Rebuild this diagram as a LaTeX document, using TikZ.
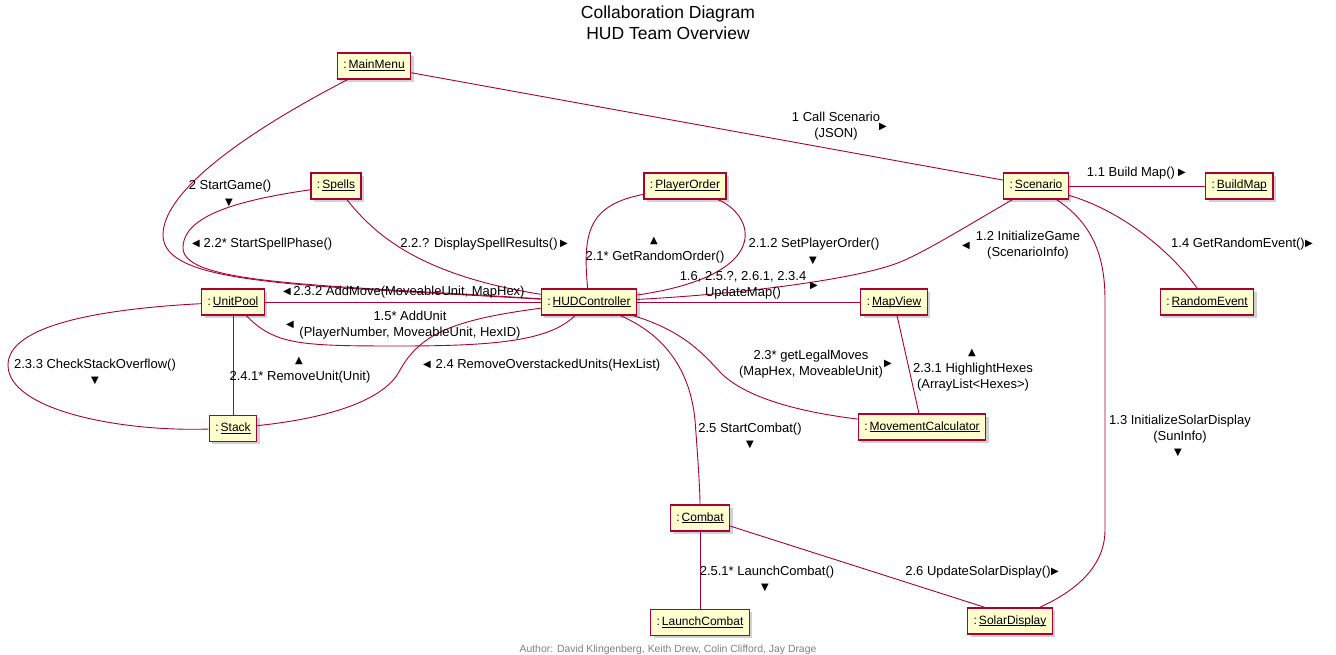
\documentclass[tikz,border=0pt]{standalone}
\usepackage{fontspec}
\setmainfont{Liberation Sans}
\newfontfamily\symfont{DejaVu Sans}
\usetikzlibrary{positioning}
\usetikzlibrary{shadows}
\definecolor{umlred}{HTML}{A80036}
\definecolor{umlfill}{HTML}{FEFECE}
\tikzset{obj/.style={draw=umlred, fill=umlfill, line width=1.2pt, minimum height=26pt, inner xsep=6pt, inner ysep=0pt, text height=9pt, text depth=3pt, font=\fontsize{12}{14}\selectfont, drop shadow={shadow xshift=3pt, shadow yshift=-3pt, opacity=0.18, fill=black}}}
\tikzset{lnk/.style={draw=umlred, line width=0.9pt}}
\tikzset{msg/.style={align=center, inner sep=0pt, font=\fontsize{13}{16}\selectfont}}
\tikzset{tri/.style={inner sep=0pt, font=\symfont\fontsize{10}{10}\selectfont}}
\newcommand{\inst}[1]{:\,\begingroup\setbox0=\hbox{#1}\rlap{\rule[-2.2pt]{\wd0}{0.9pt}}\box0\endgroup}

\begin{document}
\begin{tikzpicture}[x=1pt, y=-1pt]
    \fill[white] (0,0) rectangle (1336,655);
    \useasboundingbox (0,0) rectangle (1336,655);

    \node (title1) [anchor=base, font=\fontsize{17.5}{21}\selectfont] at (668,19) {Collaboration Diagram};
    \node (title2) [anchor=base, font=\fontsize{17.5}{21}\selectfont] at (668,40) {HUD Team Overview};

    \node[obj] (mm) at (374,66) {\inst{MainMenu}};
    \node[obj] (sp) at (336,186) {\inst{Spells}};
    \node[obj] (po) at (685,186) {\inst{PlayerOrder}};
    \node[obj] (scn) at (1036,186) {\inst{Scenario}};
    \node[obj, right=136pt of scn] (bm) {\inst{BuildMap}};
    \node[obj] (up) at (233,302) {\inst{UnitPool}};
    \node[obj] (hud) at (589,302) {\inst{HUDController}};
    \node[obj] (mv) at (894,302) {\inst{MapView}};
    \node[obj] (re) at (1207,302) {\inst{RandomEvent}};
    \node[obj, below=99pt of up] (stk) {\inst{Stack}};
    \node[obj] (mc) at (922,427) {\inst{MovementCalculator}};
    \node[obj] (cbt) at (700,518) {\inst{Combat}};
    \node[obj, below=77pt of cbt] (lc) {\inst{LaunchCombat}};
    \node[obj] (sd) at (1010,621) {\inst{SolarDisplay}};

    \draw[lnk] (mm) -- (scn);
    \draw[lnk] (mm) .. controls (250,130) and (163,190) .. (163,235)
        .. controls (163,285) and (300,285) .. (hud);
    \draw[lnk] (sp) .. controls (240,200) and (183,215) .. (183,248)
        .. controls (183,285) and (330,285) .. (hud);
    \draw[lnk] (sp) .. controls (375,235) and (420,275) .. (hud);
    \draw[lnk] (up) -- (hud);
    \draw[lnk] (up) .. controls (275,345) and (300,346) .. (400,346)
        .. controls (500,346) and (550,340) .. (hud);
    \draw[lnk] (up) .. controls (80,310) and (8,330) .. (8,365)
        .. controls (8,410) and (120,432) .. (stk);
    \draw[lnk] (up) -- (stk);
    \draw[lnk] (hud) .. controls (450,320) and (420,335) .. (400,370)
        .. controls (385,400) and (330,418) .. (stk);
    \draw[lnk] (po) .. controls (590,205) and (582,230) .. (hud);
    \draw[lnk] (po) .. controls (755,215) and (775,275) .. (hud);
    \draw[lnk] (scn) .. controls (960,230) and (920,255) .. (895,264)
        .. controls (850,280) and (740,294) .. (hud);
    \draw[lnk] (hud) -- (mv);
    \draw[lnk] (hud) .. controls (680,330) and (700,350) .. (720,372)
        .. controls (745,398) and (800,412) .. (mc);
    \draw[lnk] (mv) -- (mc);
    \draw[lnk] (hud) .. controls (665,335) and (690,370) .. (695,420)
        .. controls (698,460) and (700,490) .. (cbt);
    \draw[lnk] (cbt) -- (lc);
    \draw[lnk] (cbt.-15) -- ([xshift=18pt]sd.north west);
    \draw[lnk] (scn) .. controls (1095,225) and (1105,260) .. (1105,300)
        -- (1105,530) .. controls (1105,575) and (1060,598) .. (sd);
    \draw[lnk] (scn) -- (bm);
    \draw[lnk] (scn) .. controls (1120,210) and (1170,250) .. (re);

    \node[msg] (m1) at (836,126) {1 Call Scenario\\(JSON)};
    \node[tri] (t1) at (883,127) {▶};
    \node[msg] (m2) at (230,186) {2 StartGame()};
    \node[tri] (t2) at (229,203) {▼};
    \node[msg] (m3) at (268,244) {2.2* StartSpellPhase()};
    \node[tri] (t3) at (196,244) {◀};
    \node[msg] (m4) at (479,244) {2.2.? DisplaySpellResults()};
    \node[tri] (t4) at (564,244) {▶};
    \node[msg] (m5) at (409,292) {2.3.2 AddMove(MoveableUnit, MapHex)};
    \node[tri] (t5) at (287,292) {◀};
    \node[msg] (m6) at (410,325) {1.5* AddUnit\\(PlayerNumber, MoveableUnit, HexID)};
    \node[tri] (t6) at (290,325) {◀};
    \node[msg] (m7) at (95,365) {2.3.3 CheckStackOverflow()};
    \node[tri] (t7) at (95,381) {▼};
    \node[msg] (m8) at (300,377) {2.4.1* RemoveUnit(Unit)};
    \node[tri] (t8) at (299,361) {▲};
    \node[msg] (m9) at (548,365) {2.4 RemoveOverstackedUnits(HexList)};
    \node[tri] (t9) at (427,365) {◀};
    \node[msg] (m10) at (655,257) {2.1* GetRandomOrder()};
    \node[tri] (t10) at (654,241) {▲};
    \node[msg] (m11) at (814,244) {2.1.2 SetPlayerOrder()};
    \node[tri] (t11) at (813,261) {▼};
    \node[msg] (m12) at (1028,245) {1.2 InitializeGame\\(ScenarioInfo)};
    \node[tri] (t12) at (966,246) {◀};
    \node[msg] (m13) at (743,285) {1.6, 2.5.?, 2.6.1, 2.3.4\\UpdateMap()};
    \node[tri] (t13) at (814,286) {▶};
    \node[msg] (m14) at (811,364) {2.3* getLegalMoves\\(MapHex, MoveableUnit)};
    \node[tri] (t14) at (888,364) {▶};
    \node[msg] (m15) at (973,377) {2.3.1 HighlightHexes\\(ArrayList<Hexes>)};
    \node[tri] (t15) at (972,353) {▲};
    \node[msg] (m16) at (750,429) {2.5 StartCombat()};
    \node[tri] (t16) at (750,445) {▼};
    \node[msg] (m17) at (767,572) {2.5.1* LaunchCombat()};
    \node[tri] (t17) at (765,588) {▼};
    \node[msg] (m18) at (978,572) {2.6 UpdateSolarDisplay()};
    \node[tri] (t18) at (1055,572) {▶};
    \node[msg] (m19) at (1180,429) {1.3 InitializeSolarDisplay\\(SunInfo)};
    \node[tri] (t19) at (1178,453) {▼};
    \node[msg] (m20) at (1131,173) {1.1 Build Map()};
    \node[tri] (t20) at (1182,173) {▶};
    \node[msg] (m21) at (1238,244) {1.4 GetRandomEvent()};
    \node[tri] (t21) at (1309,244) {▶};

    \node (author) [text=black!50, font=\fontsize{10.4}{12}\selectfont] at (668,650) {Author: David Klingenberg, Keith Drew, Colin Clifford, Jay Drage};
\end{tikzpicture}
\end{document}
